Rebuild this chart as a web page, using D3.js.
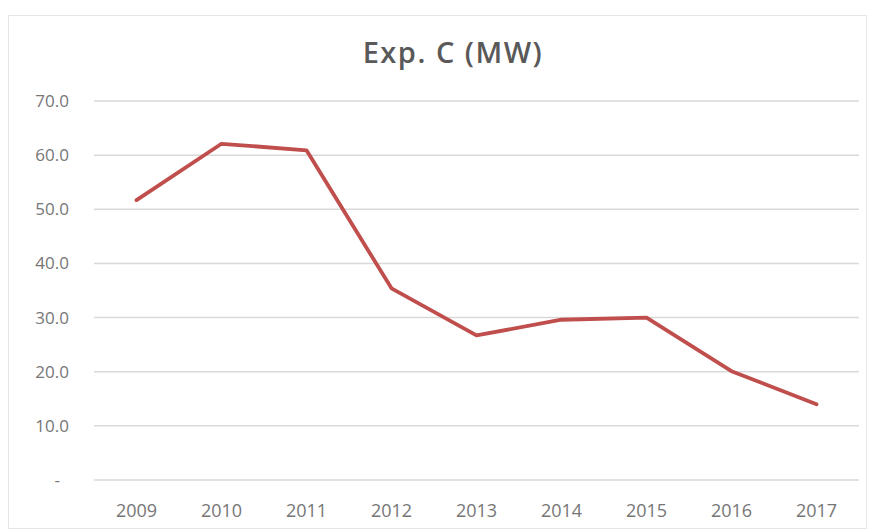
<!DOCTYPE html>
<html>
<head>
<meta charset="utf-8">
<script src="https://cdn.jsdelivr.net/npm/d3@7"></script>
<style>
  body { margin: 0; background: #fff; }
  svg text { font-family: "Open Sans", "Liberation Sans", sans-serif; }
</style>
</head>
<body>
<svg id="chart" width="879" height="531"></svg>
<script>
var years = ["2009", "2010", "2011", "2012", "2013", "2014", "2015", "2016", "2017"];
var values = [51.7, 62.1, 60.9, 35.4, 26.7, 29.6, 30.0, 20.1, 14.0];
var yTicks = [0, 10, 20, 30, 40, 50, 60, 70];

var svg = d3.select("#chart");
var plotLeft = 94, plotRight = 859, plotTop = 101, plotBottom = 480;

// faint outer border of the chart area
svg.append("rect")
    .attr("x", 8.5).attr("y", 15.5)
    .attr("width", 858).attr("height", 513)
    .attr("fill", "none")
    .attr("stroke", "#e6e6e6");

var x = d3.scaleBand().domain(years).range([plotLeft, plotRight]);
var y = d3.scaleLinear().domain([0, 70]).range([plotBottom, plotTop]);

// gridlines
svg.append("g")
    .selectAll("line")
    .data(yTicks)
    .enter().append("line")
    .attr("x1", plotLeft).attr("x2", plotRight)
    .attr("y1", function(d) { return y(d); })
    .attr("y2", function(d) { return y(d); })
    .attr("stroke", "#d9d9d9")
    .attr("stroke-width", 1.5);

// y labels (zero shown as an accounting dash, set in from the edge)
svg.append("g")
    .selectAll("text")
    .data(yTicks)
    .enter().append("text")
    .attr("x", function(d) { return d === 0 ? 60 : 69; })
    .attr("y", function(d) { return y(d) + 6; })
    .attr("text-anchor", "end")
    .attr("fill", "#767676")
    .attr("font-size", 17)
    .text(function(d) { return d === 0 ? "-" : d.toFixed(1); });

// x labels
svg.append("g")
    .selectAll("text")
    .data(years)
    .enter().append("text")
    .attr("x", function(d) { return x(d) + x.bandwidth() / 2; })
    .attr("y", 517)
    .attr("text-anchor", "middle")
    .attr("fill", "#767676")
    .attr("font-size", 18)
    .text(function(d) { return d; });

var line = d3.line()
    .x(function(d, i) { return x(years[i]) + x.bandwidth() / 2; })
    .y(function(d) { return y(d); });

svg.append("path")
    .datum(values)
    .attr("d", line)
    .attr("fill", "none")
    .attr("stroke", "#bf4e4c")
    .attr("stroke-width", 3.8)
    .attr("stroke-linejoin", "round")
    .attr("stroke-linecap", "round");

// title
svg.append("text")
    .attr("x", 453)
    .attr("y", 63)
    .attr("text-anchor", "middle")
    .attr("fill", "#595959")
    .attr("font-size", 29)
    .attr("font-weight", 600)
    .attr("letter-spacing", 1.5)
    .text("Exp. C (MW)");
</script>
</body>
</html>
